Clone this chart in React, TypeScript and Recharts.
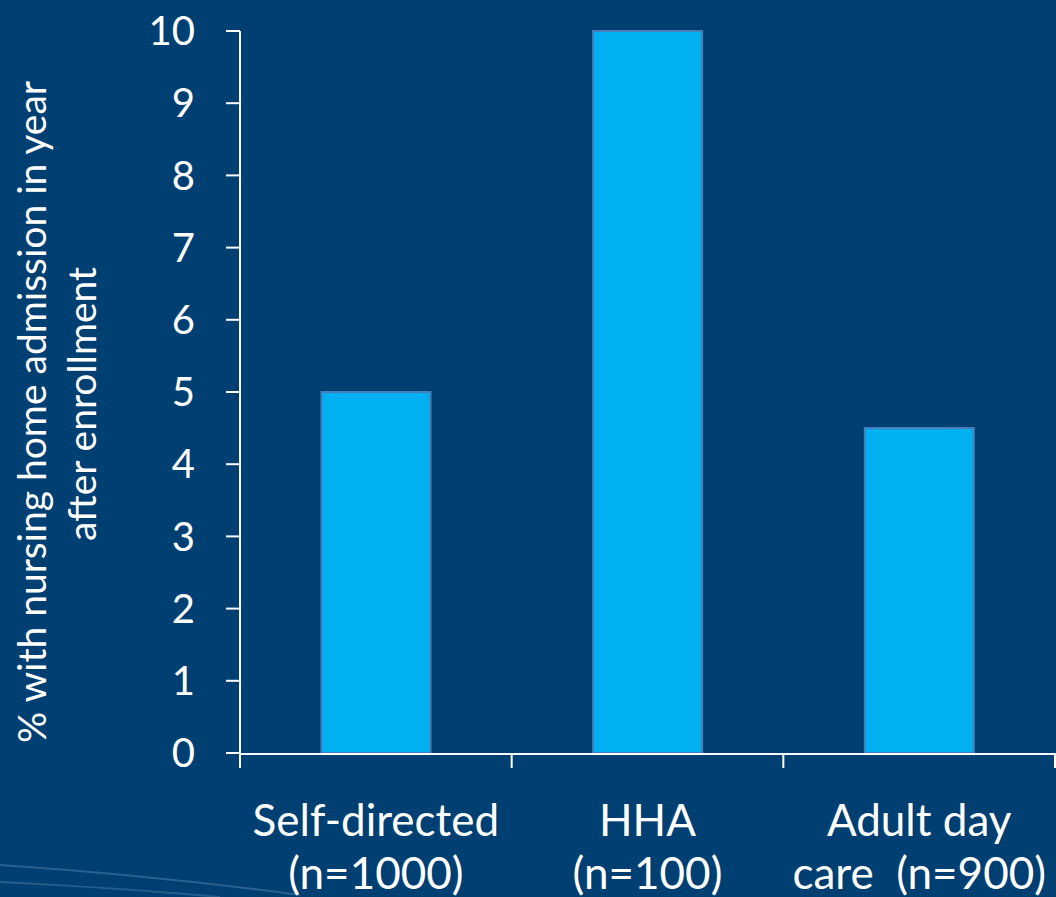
import React from 'react'
import { BarChart, Bar, XAxis, YAxis } from 'recharts'

const categories = ['Self-directed\n(n=1000)', 'HHA\n(n=100)', 'Adult day\ncare  (n=900)']
const admissionPct = [5, 10, 4.5]
const yTicks = [0, 1, 2, 3, 4, 5, 6, 7, 8, 9, 10]
const edgeTicks = [0, 1, 2, 3]
const yLabelLines = ['% with nursing home admission in year', 'after enrollment']

// pos = category centre in "edge" units, so edge ticks fall on category boundaries
const data = categories.map((c, i) => ({ name: c, pct: admissionPct[i], pos: i + 0.5 }))

const BG = '#003F72'
const FONT = 'Lato, "Open Sans", sans-serif'

const CategoryTick = (props: any) => {
  const { x, y, payload } = props
  const lines = String(payload.value).split('\n')
  return (
    <text x={x} y={y} textAnchor="middle" fill="#fff" fontSize={44} fontFamily={FONT} style={{ whiteSpace: 'pre' }}>
      {lines.map((l, i) => (
        <tspan key={i} x={x} dy={i === 0 ? 74 : 53}>{l}</tspan>
      ))}
    </text>
  )
}

const EmptyTick = () => <g />

const YLabel = (props: any) => {
  const vb = props.viewBox || {}
  const cy = vb.y + vb.height / 2 + 20
  return (
    <text transform={`translate(0, ${cy}) rotate(-90)`} textAnchor="middle" fill="#fff" fontSize={39} fontFamily={FONT}>
      {yLabelLines.map((l, i) => (
        <tspan key={i} x={i === 0 ? 0 : 8} y={i === 0 ? 46 : 96}>{l}</tspan>
      ))}
    </text>
  )
}

export default function App() {
  return (
    <div style={{ position: 'fixed', left: 0, top: 0, width: 1056, height: 897, background: BG }}>
      <svg width={1056} height={897} style={{ position: 'absolute', left: 0, top: 0 }}>
        <path d="M0,865 Q150,875 300,895" stroke="rgba(120,160,200,0.35)" strokeWidth={2} fill="none" />
        <path d="M0,882 Q120,888 220,897" stroke="rgba(120,160,200,0.3)" strokeWidth={2} fill="none" />
      </svg>
      <BarChart
        width={1056}
        height={897}
        data={data}
        margin={{ top: 31, right: 1, left: 0, bottom: 0 }}
        barCategoryGap="30%"
        style={{ position: 'absolute', left: 0, top: 0 }}
      >
        <XAxis
          xAxisId="1"
          dataKey="name"
          height={143}
          interval={0}
          tickLine={false}
          axisLine={{ stroke: '#fff', strokeWidth: 2 }}
          tick={<CategoryTick />}
        />
        <XAxis
          xAxisId="0"
          type="number"
          dataKey="pos"
          domain={[0, 3]}
          ticks={edgeTicks}
          interval={0}
          allowDataOverflow
          height={1}
          tick={<EmptyTick />}
          tickSize={15}
          tickLine={{ stroke: '#fff', strokeWidth: 2 }}
          axisLine={false}
        />
        <YAxis
          width={240}
          domain={[0, 10]}
          ticks={yTicks}
          interval={0}
          tickSize={14}
          tickMargin={31}
          axisLine={{ stroke: '#fff', strokeWidth: 2 }}
          tickLine={{ stroke: '#fff', strokeWidth: 2 }}
          tick={{ fill: '#fff', fontSize: 40, fontFamily: FONT }}
          label={<YLabel />}
        />
        <Bar
          xAxisId="1"
          dataKey="pct"
          fill="#00B0F0"
          stroke="#4A7EBB"
          strokeWidth={2}
          isAnimationActive={false}
        />
      </BarChart>
    </div>
  )
}
